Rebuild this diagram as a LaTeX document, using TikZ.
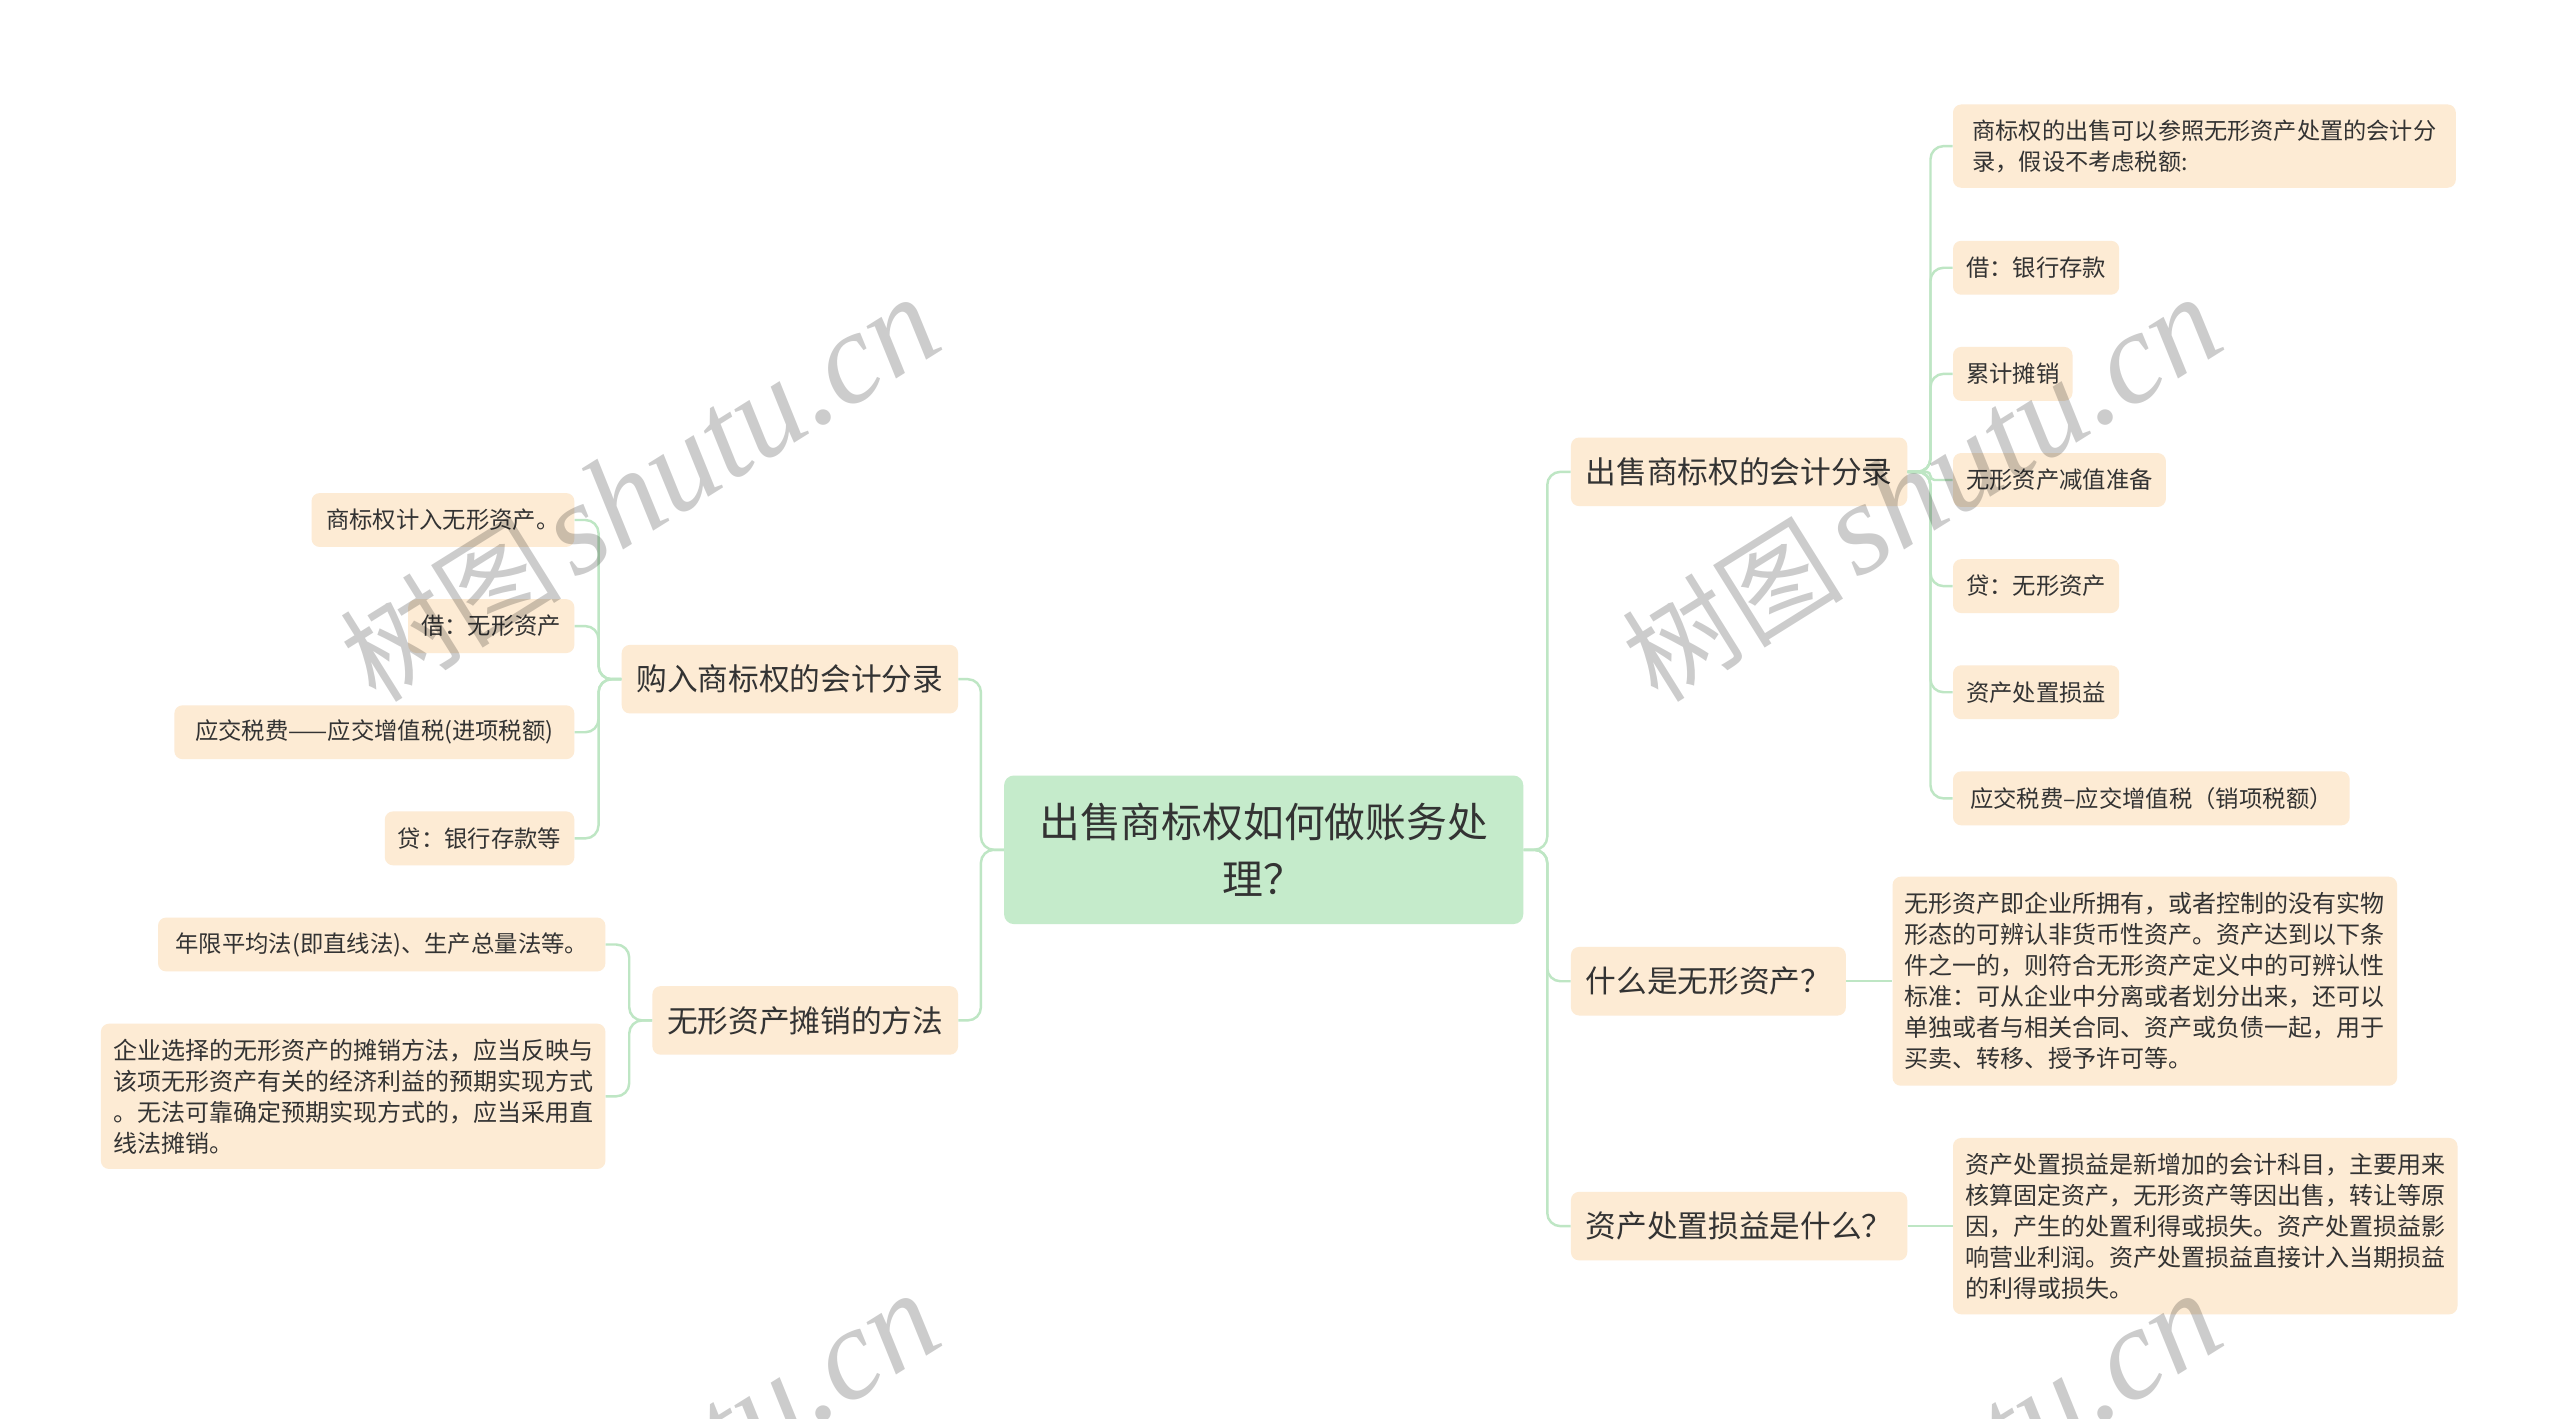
\documentclass[tikz,border=0pt]{standalone}
\usepackage{fontspec}
\setmainfont{Noto Sans CJK SC}
\newfontfamily\wmserif{Liberation Serif}
\definecolor{peach}{HTML}{FDEBD4}
\definecolor{mint}{HTML}{C5EBCB}
\definecolor{lnk}{HTML}{BEE6C4}
\definecolor{ink}{HTML}{333333}
\begin{document}
\begin{tikzpicture}[x=1pt,y=-1pt,
  box/.style={fill=peach, rounded corners=5pt, text=ink, inner ysep=0pt},
  lone/.style={box, font=\fontsize{18.8}{22}\selectfont, minimum height=42pt, inner xsep=9pt},
  ltwo/.style={box, font=\fontsize{14.3}{19}\selectfont, minimum height=33pt, inner xsep=8pt},
  lpar/.style={box, font=\fontsize{14.7}{19}\selectfont, align=left, inner xsep=7.5pt},
  conn/.style={draw=lnk, line width=1.5pt, rounded corners=8pt},
  wm/.style={rotate=32, transform shape, text=black, text opacity=0.2, inner sep=0pt}
]
\useasboundingbox (0,0) rectangle (1568,869);
\fill[white] (0,0) rectangle (1568,869);

% root
\node[box, fill=mint, font=\fontsize{25}{34.5}\selectfont, align=center,
      minimum width=318pt, minimum height=91pt, rounded corners=6pt] (root) at (774,520.5)
      {出售商标权如何做账务处\\理？};

% level 1 right
\node[lone, anchor=west] (A) at (962,289) {出售商标权的会计分录};
\node[lone, anchor=west] (B) at (962,601) {什么是无形资产？};
\node[lone, anchor=west] (C) at (962,751) {资产处置损益是什么？};
% level 1 left
\node[lone, anchor=east] (D) at (587,416) {购入商标权的会计分录};
\node[lone, anchor=east] (E) at (587,625) {无形资产摊销的方法};

% children of A
\node[lpar, font=\fontsize{14.2}{19}\selectfont, anchor=west, minimum height=51pt, minimum width=308pt] (a1) at (1196,89.5)
  {商标权的出售可以参照无形资产处置的会计分\\录，假设不考虑税额:};
\node[ltwo, anchor=west] (a2) at (1196,164) {借：银行存款};
\node[ltwo, anchor=west] (a3) at (1196,229) {累计摊销};
\node[ltwo, anchor=west] (a4) at (1196,294) {无形资产减值准备};
\node[ltwo, anchor=west] (a5) at (1196,359) {贷：无形资产};
\node[ltwo, anchor=west] (a6) at (1196,424) {资产处置损益};
\node[ltwo, anchor=west, minimum width=243pt] (a7) at (1196,489) {应交税费–应交增值税（销项税额）};

% child of B
\node[lpar, anchor=west, minimum height=128pt, minimum width=307pt] (b1) at (1159,601)
  {无形资产即企业所拥有，或者控制的没有实物\\
   形态的可辨认非货币性资产。资产达到以下条\\
   件之一的，则符合无形资产定义中的可辨认性\\
   标准：可从企业中分离或者划分出来，还可以\\
   单独或者与相关合同、资产或负债一起，用于\\
   买卖、转移、授予许可等。};

% child of C
\node[lpar, anchor=west, minimum height=108pt, minimum width=308pt] (c1) at (1196,751)
  {资产处置损益是新增加的会计科目，主要用来\\
   核算固定资产，无形资产等因出售，转让等原\\
   因，产生的处置利得或损失。资产处置损益影\\
   响营业利润。资产处置损益直接计入当期损益\\
   的利得或损失。};

% children of D
\node[ltwo, anchor=east, minimum width=161pt] (d1) at (352,318.5) {商标权计入无形资产。};
\node[ltwo, anchor=east] (d2) at (352,383.5) {借：无形资产};
\node[ltwo, anchor=east, minimum width=245pt] (d3) at (352,448.5) {应交税费——应交增值税(进项税额)};
\node[ltwo, anchor=east] (d4) at (352,513.5) {贷：银行存款等};

% children of E
\node[ltwo, anchor=east, minimum width=274pt] (e1) at (371,578.5) {年限平均法(即直线法)、生产总量法等。};
\node[lpar, anchor=east, minimum height=89pt, minimum width=308pt] (e2) at (371,671.5)
  {企业选择的无形资产的摊销方法，应当反映与\\
   该项无形资产有关的经济利益的预期实现方式\\
   。无法可靠确定预期实现方式的，应当采用直\\
   线法摊销。};

% connectors
\foreach \n in {A,B,C} \draw[conn] (root.east) -- ++(14.5,0) |- (\n.west);
\foreach \n in {D,E} \draw[conn] (root.west) -- ++(-14,0) |- (\n.east);
\foreach \n in {a1,a2,a3,a5,a6,a7} \draw[conn] (A.east) -- ++(14,0) |- (\n.west);
\draw[conn, rounded corners=2.5pt] (A.east) -- ++(14,0) |- (a4.west);
\draw[conn] (B.east) -- (b1.west);
\draw[conn] (C.east) -- (c1.west);
\foreach \n in {d1,d2,d3,d4} \draw[conn] (D.west) -- ++(-14,0) |- (\n.east);
\foreach \n in {e1,e2} \draw[conn] (E.west) -- ++(-14,0) |- (\n.east);

% watermarks
\begin{scope}
\clip (0,0) rectangle (1568,869);
\foreach \px/\py [count=\i] in {392/300, 1177/300, 392/910, 1177/910}{
  \begin{scope}[shift={(\px,\py)}]
  \node[wm] (wm\i) at (0,0) {{\fontsize{68}{68}\selectfont 树图}\hspace{8pt}{\wmserif\itshape\fontsize{80}{80}\selectfont shutu.cn}};
  \end{scope}
}
\end{scope}
\end{tikzpicture}
\end{document}
